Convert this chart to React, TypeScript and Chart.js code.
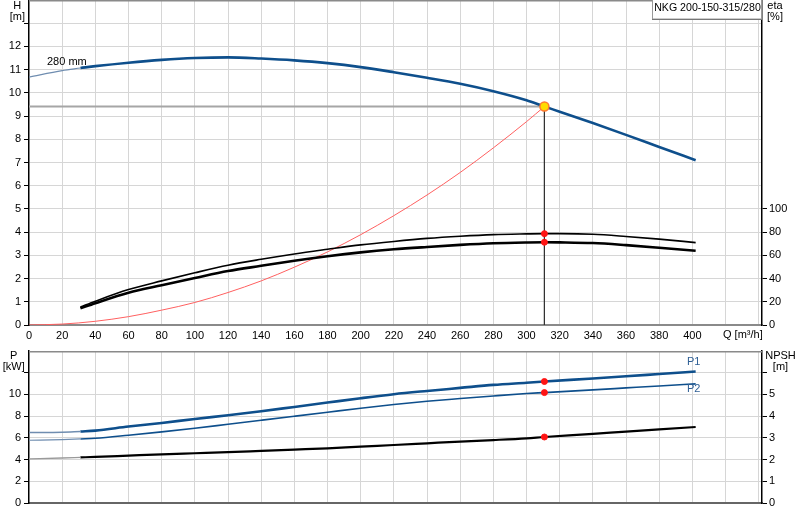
import React, { useEffect, useRef } from "react";
import { Chart, registerables } from "chart.js";
import type { ChartConfiguration, Plugin } from "chart.js";

Chart.register(...registerables);

const FONT = "'Liberation Sans', Arial, sans-serif";
const GRID = "#d6d6d6";
const BLUE = "#0e4f8c";
const BLUE_THIN = "#6f8db0";

// duty point
const dutyQ = 310.8;
const dutyH = 9.41;
const dutyEta = [78.7, 71.3];
const dutyP = [11.19, 10.17];
const dutyNpsh = 3.04;

// Q/H, 280 mm impeller
const qHThin = [0, 20, 31];
const hThin = [10.68, 10.96, 11.07];
const qH = [31, 40, 60, 80, 100, 120, 140, 160, 180, 200, 220, 240, 260, 280, 300, 310.8, 320, 340, 360, 380, 402];
const hVals = [11.07, 11.15, 11.3, 11.42, 11.5, 11.53, 11.48, 11.4, 11.28, 11.11, 10.89, 10.65, 10.39, 10.07, 9.68, 9.41, 9.19, 8.7, 8.19, 7.67, 7.1];

// system curve
const qSys = [0, 20, 40, 60, 80, 100, 120, 140, 160, 180, 200, 220, 240, 260, 280, 300, 310.8];
const hSys = [0, 0.04, 0.16, 0.36, 0.64, 0.97, 1.4, 1.9, 2.49, 3.15, 3.89, 4.71, 5.6, 6.57, 7.63, 8.76, 9.41];

// efficiencies [%]
const qEta = [31, 40, 60, 80, 100, 120, 140, 160, 180, 200, 220, 240, 260, 280, 300, 310.8, 320, 340, 360, 380, 402];
const eta1 = [15.5, 20.5, 30.5, 38, 45, 51.5, 56.6, 61.2, 65.2, 69, 72, 74.6, 76.5, 77.9, 78.5, 78.7, 78.7, 78.2, 76.3, 74, 71];
const eta2 = [14.4, 18.8, 27.8, 34.3, 40.5, 46.5, 51, 55.4, 59.3, 62.6, 65.2, 67.2, 69, 70.4, 71.1, 71.3, 71.2, 70.6, 68.8, 66.6, 64];

// power [kW] and NPSH [m]
const qP = [0, 20, 31, 40, 60, 80, 100, 120, 140, 160, 180, 200, 220, 240, 260, 280, 300, 310.8, 340, 360, 380, 402];
const p1 = [6.49, 6.52, 6.58, 6.67, 7.04, 7.37, 7.74, 8.08, 8.45, 8.85, 9.25, 9.65, 10.02, 10.32, 10.6, 10.88, 11.08, 11.19, 11.47, 11.67, 11.88, 12.11];
const p2 = [5.78, 5.84, 5.9, 5.96, 6.24, 6.55, 6.88, 7.25, 7.62, 7.99, 8.36, 8.73, 9.07, 9.37, 9.62, 9.86, 10.08, 10.17, 10.42, 10.6, 10.78, 10.97];
const npsh = [2.03, 2.07, 2.1, 2.12, 2.18, 2.24, 2.29, 2.34, 2.4, 2.46, 2.52, 2.6, 2.67, 2.75, 2.83, 2.9, 2.98, 3.04, 3.18, 3.29, 3.39, 3.5];
const THIN_END = 3; // first 3 points (Q <= 31) are drawn thin

const pts = (xs: number[], ys: number[]) => xs.map((x, i) => ({ x, y: ys[i] }));

const line = (data: any[], color: string, width: number, extra: any = {}) => ({
  type: "line" as const,
  data,
  borderColor: color,
  borderWidth: width,
  pointRadius: 0,
  fill: false,
  cubicInterpolationMode: "monotone" as const,
  order: 5,
  ...extra,
});

const dot = (data: any[], fill: string, border: string, r: number, extra: any = {}) => ({
  type: "line" as const,
  data,
  showLine: false,
  pointRadius: r,
  pointBackgroundColor: fill,
  pointBorderColor: border,
  pointBorderWidth: 1,
  order: 0,
  ...extra,
});

const fixWidth = (w: number) => (s: any) => {
  s.width = w;
  s.paddingTop = 0;
  s.paddingBottom = 0;
};
const fixHeight = (h: number) => (s: any) => {
  s.height = h;
  s.paddingLeft = 0;
  s.paddingRight = 0;
};

const xScale = (showLabels: boolean, height: number, borderColor: string) => ({
  type: "linear" as const,
  position: "bottom" as const,
  min: 0,
  max: 442,
  afterFit: fixHeight(height),
  border: { color: borderColor, width: 2 },
  grid: {
    drawTicks: false,
    color: (c: any) => (c.tick && c.tick.value > 0 && c.tick.value % 20 === 0 ? GRID : "transparent"),
  },
  ticks: {
    display: showLabels,
    stepSize: 20,
    includeBounds: false,
    autoSkip: false,
    maxRotation: 0,
    padding: 4,
    color: "#000",
    font: { family: FONT, size: 11 },
    callback: (v: any) => (Number(v) <= 400 ? String(v) : ""),
  },
});

const yScale = (
  pos: "left" | "right",
  max: number,
  step: number,
  labelMax: number,
  tickMax: number,
  width: number,
  onArea: boolean
) => ({
  type: "linear" as const,
  position: pos,
  min: 0,
  max,
  afterFit: fixWidth(width),
  border: { color: "#000", width: 1.5 },
  grid: {
    drawOnChartArea: onArea,
    drawTicks: true,
    tickLength: 5,
    tickWidth: 1,
    tickColor: (c: any) => (c.tick && c.tick.value <= tickMax ? "#000" : "transparent"),
    color: (c: any) => (c.tick && c.tick.value > 0 && c.tick.value < max ? GRID : "transparent"),
  },
  ticks: {
    stepSize: step,
    includeBounds: false,
    autoSkip: false,
    padding: pos === "left" ? 3 : 2,
    color: "#000",
    font: { family: FONT, size: 11 },
    callback: (v: any) => (Number(v) <= labelMax ? String(v) : ""),
  },
});

const topBorder: Plugin = {
  id: "topBorder",
  afterDatasetsDraw: (chart) => {
    const { ctx, chartArea } = chart;
    ctx.save();
    ctx.strokeStyle = "#8a8a8a";
    ctx.lineWidth = 1.5;
    ctx.beginPath();
    ctx.moveTo(chartArea.left, chartArea.top + 0.75);
    ctx.lineTo(chartArea.right, chartArea.top + 0.75);
    ctx.stroke();
    ctx.restore();
  },
};

const topTexts: Plugin = {
  id: "topTexts",
  afterDraw: (chart) => {
    const ctx = chart.ctx;
    ctx.save();
    ctx.font = `11px ${FONT}`;
    ctx.fillStyle = "#000";
    ctx.textBaseline = "middle";
    ctx.textAlign = "center";
    ctx.fillText("H", 17.3, 5.5);
    ctx.fillText("[m]", 17.3, 17);
    ctx.fillText("eta", 775, 5.5);
    ctx.fillText("[%]", 775, 17);
    ctx.textAlign = "left";
    ctx.fillText("280 mm", 47, 61.5);
    ctx.fillText("Q [m\u00b3/h]", 723, 335);
    // curve name box
    ctx.fillStyle = "#fff";
    ctx.fillRect(652, 0, 110, 19);
    ctx.strokeStyle = "#9a9a9a";
    ctx.lineWidth = 1;
    ctx.strokeRect(652.5, -1, 109, 20);
    ctx.strokeStyle = "#777";
    ctx.beginPath();
    ctx.moveTo(652, 19.5);
    ctx.lineTo(762, 19.5);
    ctx.stroke();
    ctx.fillStyle = "#000";
    ctx.textAlign = "center";
    ctx.font = `10.6px ${FONT}`;
    ctx.fillText("NKG 200-150-315/280", 707.5, 8.5);
    ctx.restore();
  },
};

const bottomTexts: Plugin = {
  id: "bottomTexts",
  afterDraw: (chart) => {
    const ctx = chart.ctx;
    const xs = chart.scales.x;
    const ys = chart.scales.y;
    ctx.save();
    ctx.font = `11px ${FONT}`;
    ctx.fillStyle = "#000";
    ctx.textBaseline = "middle";
    ctx.textAlign = "center";
    ctx.fillText("P", 13.7, 15.7);
    ctx.fillText("[kW]", 13.7, 27.3);
    ctx.fillText("NPSH", 780.5, 15.7);
    ctx.fillText("[m]", 780.5, 27.3);
    ctx.fillStyle = "#2f5f95";
    const xe = xs.getPixelForValue(qP[qP.length - 1]) - 2;
    ctx.fillText("P1", xe, ys.getPixelForValue(p1[p1.length - 1]) - 10);
    ctx.fillText("P2", xe, ys.getPixelForValue(p2[p2.length - 1]) + 5.5);
    ctx.restore();
  },
};

const topConfig = (): ChartConfiguration => ({
  type: "line",
  data: {
    datasets: [
      dot([{ x: dutyQ, y: dutyH }], "#ffdc00", "#ff7a30", 4.5, { pointBorderWidth: 1.5 }),
      dot([{ x: dutyQ, y: dutyEta[0] }, { x: dutyQ, y: dutyEta[1] }], "#ff1414", "#ff1414", 3, { yAxisID: "y2" }),
      line(pts(qHThin, hThin), BLUE_THIN, 1.2),
      line(pts(qH, hVals), BLUE, 2.6),
      line(pts(qEta, eta1), "#000", 1.6, { yAxisID: "y2" }),
      line(pts(qEta, eta2), "#000", 2.6, { yAxisID: "y2" }),
      line(pts(qSys, hSys), "#ff6060", 1),
      line(pts([0, dutyQ], [dutyH, dutyH]), "#a6a6a6", 2, { cubicInterpolationMode: "default", order: 8 }),
      line(pts([dutyQ, dutyQ], [dutyH, 0]), "#333", 1, { cubicInterpolationMode: "default", order: 8 }),
    ] as any,
  },
  options: {
    animation: false,
    responsive: true,
    maintainAspectRatio: false,
    layout: { padding: 0, autoPadding: false },
    plugins: { legend: { display: false }, tooltip: { enabled: false } },
    scales: {
      x: xScale(true, 20, "#8a8a8a"),
      y: yScale("left", 14, 1, 12, 13, 29, true),
      y2: yScale("right", 280, 20, 100, 100, 38, false),
    } as any,
  },
  plugins: [topBorder, topTexts],
});

const bottomConfig = (): ChartConfiguration => ({
  type: "line",
  data: {
    datasets: [
      dot([{ x: dutyQ, y: dutyP[0] }, { x: dutyQ, y: dutyP[1] }], "#ff1414", "#ff1414", 3),
      dot([{ x: dutyQ, y: dutyNpsh }], "#ff1414", "#ff1414", 3, { yAxisID: "y2" }),
      line(pts(qP.slice(0, THIN_END), p1.slice(0, THIN_END)), BLUE_THIN, 1.4),
      line(pts(qP.slice(THIN_END - 1), p1.slice(THIN_END - 1)), BLUE, 2.6),
      line(pts(qP.slice(0, THIN_END), p2.slice(0, THIN_END)), BLUE_THIN, 1.2),
      line(pts(qP.slice(THIN_END - 1), p2.slice(THIN_END - 1)), BLUE, 1.6),
      line(pts(qP.slice(0, THIN_END), npsh.slice(0, THIN_END)), "#9a9a9a", 1.4, { yAxisID: "y2" }),
      line(pts(qP.slice(THIN_END - 1), npsh.slice(THIN_END - 1)), "#000", 2.2, { yAxisID: "y2" }),
    ] as any,
  },
  options: {
    animation: false,
    responsive: true,
    maintainAspectRatio: false,
    layout: { padding: { top: 11, left: 0, right: 0, bottom: 0 }, autoPadding: false },
    plugins: { legend: { display: false }, tooltip: { enabled: false } },
    scales: {
      x: xScale(false, 17, "#666"),
      y: yScale("left", 14, 2, 10, 12, 29, true),
      y2: yScale("right", 7, 1, 5, 6, 38, false),
    } as any,
  },
  plugins: [topBorder, bottomTexts],
});

const ChartBox: React.FC<{ top: number; height: number; make: () => ChartConfiguration }> = ({ top, height, make }) => {
  const canvasRef = useRef<HTMLCanvasElement | null>(null);

  useEffect(() => {
    const canvas = canvasRef.current;
    if (!canvas) return;
    const chart = new Chart(canvas, make());
    return () => chart.destroy();
  }, [make]);

  return (
    <div style={{ position: "absolute", left: 0, top, width: 800, height }}>
      <canvas ref={canvasRef} />
    </div>
  );
};

export default function App() {
  return (
    <div style={{ position: "fixed", left: 0, top: 0, width: 800, height: 520, background: "#fff" }}>
      <ChartBox top={0} height={345} make={topConfig} />
      <ChartBox top={340} height={180} make={bottomConfig} />
    </div>
  );
}
